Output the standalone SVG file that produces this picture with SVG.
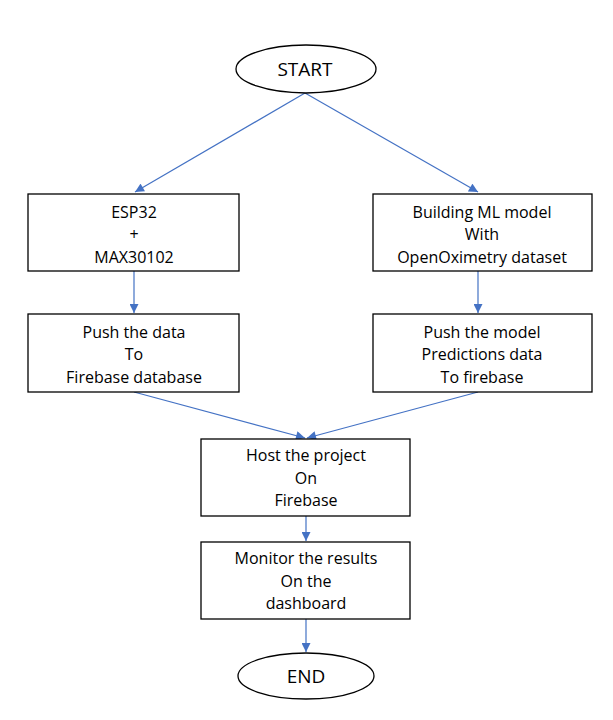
<svg xmlns="http://www.w3.org/2000/svg" width="613" height="720" viewBox="0 0 613 720">
<defs>
<style>
.n{fill:#fff;stroke:#000;stroke-width:1.3}
.t{font-family:"Open Sans","Liberation Sans",sans-serif;font-size:16px;fill:#000;text-anchor:middle}
.tb{font-family:"Open Sans","Liberation Sans",sans-serif;font-size:19px;fill:#000;text-anchor:middle}
.c{stroke:#4472C4;stroke-width:1.2;fill:none;marker-end:url(#a)}
</style>
<marker id="a" viewBox="0 0 10 10" refX="10" refY="5" markerWidth="10" markerHeight="9" markerUnits="userSpaceOnUse" orient="auto">
<path d="M0,0 L10,5 L0,10 Z" fill="#4472C4"/>
</marker>
</defs>
<rect width="613" height="720" fill="#fff"/>
<g id="connectors">
<line class="c" x1="305" y1="93" x2="135" y2="192"/>
<line class="c" x1="305" y1="93" x2="478" y2="192"/>
<line class="c" x1="134" y1="271" x2="134" y2="313"/>
<line class="c" x1="478" y1="271" x2="478" y2="313"/>
<line class="c" x1="134" y1="392" x2="305" y2="438"/>
<line class="c" x1="478" y1="392" x2="307" y2="438"/>
<line class="c" x1="306" y1="516" x2="306" y2="541"/>
<line class="c" x1="306" y1="619" x2="306" y2="652"/>
</g>
<g id="start">
<ellipse class="n" cx="306" cy="69" rx="70" ry="24"/>
<text class="tb" x="305" y="76">START</text>
</g>
<g id="esp32">
<rect class="n" x="28" y="194" width="211" height="77"/>
<text class="t" x="134" y="218">ESP32</text>
<text class="t" x="134" y="240">+</text>
<text class="t" x="134" y="263">MAX30102</text>
</g>
<g id="ml">
<rect class="n" x="373" y="194" width="219" height="77"/>
<text class="t" x="482" y="218">Building ML model</text>
<text class="t" x="482" y="240">With</text>
<text class="t" x="482" y="263">OpenOximetry dataset</text>
</g>
<g id="pushdata">
<rect class="n" x="28" y="314" width="211" height="78"/>
<text class="t" x="134" y="338">Push the data</text>
<text class="t" x="134" y="360">To</text>
<text class="t" x="134" y="383">Firebase database</text>
</g>
<g id="pushmodel">
<rect class="n" x="373" y="314" width="219" height="78"/>
<text class="t" x="482" y="338">Push the model</text>
<text class="t" x="482" y="360">Predictions data</text>
<text class="t" x="482" y="383">To firebase</text>
</g>
<g id="host">
<rect class="n" x="201" y="439" width="209" height="77"/>
<text class="t" x="306" y="461">Host the project</text>
<text class="t" x="306" y="484">On</text>
<text class="t" x="306" y="506">Firebase</text>
</g>
<g id="monitor">
<rect class="n" x="201" y="542" width="209" height="77"/>
<text class="t" x="306" y="564">Monitor the results</text>
<text class="t" x="306" y="587">On the</text>
<text class="t" x="306" y="609">dashboard</text>
</g>
<g id="end">
<ellipse class="n" cx="306" cy="676" rx="68" ry="23"/>
<text class="tb" x="306" y="683">END</text>
</g>
</svg>
